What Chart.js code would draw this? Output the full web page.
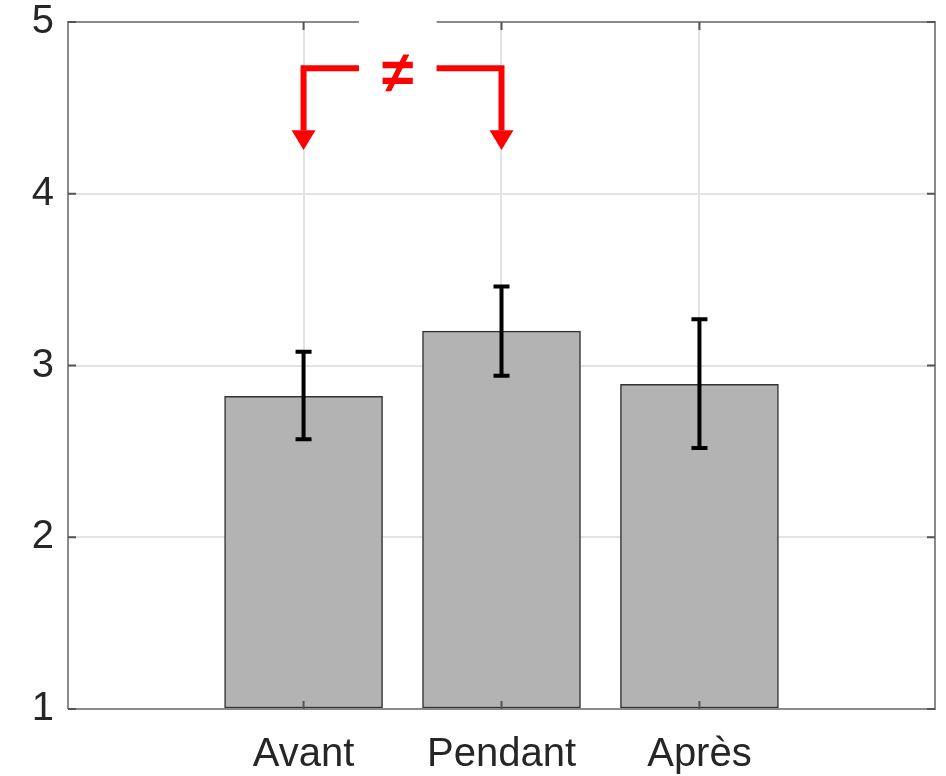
<!DOCTYPE html>
<html>
<head>
<meta charset="utf-8">
<script src="https://cdn.jsdelivr.net/npm/chart.js@4/dist/chart.umd.min.js"></script>
<style>
    html, body { margin: 0; padding: 0; background: #fff; }
    #wrap { width: 946px; height: 776px; }
</style>
</head>
<body>
<div id="wrap"><canvas id="myChart" width="946" height="776"></canvas></div>
<script>
const categories = ['Avant', 'Pendant', 'Après'];
const positions = [1, 2, 3];
const means = [2.82, 3.20, 2.89];
const errLow = [2.57, 2.94, 2.52];
const errHigh = [3.08, 3.46, 3.27];
const yTicks = [1, 2, 3, 4, 5];

const axisGray = '#8a8a8a';

// error bars, box frame, inner ticks and the red "≠" bracket
const extras = {
    id: 'extras',
    afterDatasetsDraw(chart) {
        const ctx = chart.ctx;
        const xs = chart.scales.x;
        const ys = chart.scales.y;
        const a = chart.chartArea;

        ctx.save();
        // error bars
        ctx.strokeStyle = '#000';
        ctx.lineWidth = 4;
        ctx.lineCap = 'butt';
        positions.forEach((p, i) => {
            const x = xs.getPixelForValue(p);
            const y1 = ys.getPixelForValue(errHigh[i]);
            const y2 = ys.getPixelForValue(errLow[i]);
            ctx.beginPath();
            ctx.moveTo(x, y1); ctx.lineTo(x, y2);
            ctx.moveTo(x - 8, y1); ctx.lineTo(x + 8, y1);
            ctx.moveTo(x - 8, y2); ctx.lineTo(x + 8, y2);
            ctx.stroke();
        });

        // frame
        ctx.strokeStyle = axisGray;
        ctx.lineWidth = 2;
        ctx.beginPath();
        ctx.moveTo(a.left, a.bottom); ctx.lineTo(a.left, a.top); ctx.lineTo(a.right, a.top);
        ctx.lineTo(a.right, a.bottom); ctx.lineTo(a.left, a.bottom);
        ctx.stroke();

        // inner ticks
        ctx.strokeStyle = '#555';
        ctx.lineWidth = 2;
        ctx.beginPath();
        positions.forEach(p => {
            const x = xs.getPixelForValue(p);
            ctx.moveTo(x, a.bottom); ctx.lineTo(x, a.bottom - 8);
            ctx.moveTo(x, a.top); ctx.lineTo(x, a.top + 8);
        });
        yTicks.forEach(t => {
            const y = ys.getPixelForValue(t);
            ctx.moveTo(a.left, y); ctx.lineTo(a.left + 8, y);
            ctx.moveTo(a.right, y); ctx.lineTo(a.right - 8, y);
        });
        ctx.stroke();

        // white gap over the top border
        const gx1 = xs.getPixelForValue(1.28);
        const gx2 = xs.getPixelForValue(1.672);
        ctx.fillStyle = '#fff';
        ctx.fillRect(gx1, 0, gx2 - gx1, a.top + 4);

        // red bracket
        const bx1 = xs.getPixelForValue(1);
        const bx2 = xs.getPixelForValue(2);
        const by = ys.getPixelForValue(4.73);
        const tip = ys.getPixelForValue(4.255);
        const head = ys.getPixelForValue(4.37);
        ctx.strokeStyle = '#ff0000';
        ctx.fillStyle = '#ff0000';
        ctx.lineWidth = 6;
        ctx.lineCap = 'butt';
        ctx.lineJoin = 'miter';
        ctx.beginPath();
        ctx.moveTo(gx1, by); ctx.lineTo(bx1, by); ctx.lineTo(bx1, head);
        ctx.moveTo(gx2, by); ctx.lineTo(bx2, by); ctx.lineTo(bx2, head);
        ctx.stroke();
        [bx1, bx2].forEach(x => {
            ctx.beginPath();
            ctx.moveTo(x - 12, head); ctx.lineTo(x + 12, head); ctx.lineTo(x, tip);
            ctx.closePath();
            ctx.fill();
        });
        ctx.font = 'bold 58px "Liberation Sans", Arial, sans-serif';
        ctx.textAlign = 'center';
        ctx.textBaseline = 'middle';
        ctx.fillText('≠', (gx1 + gx2) / 2, by + 8);
        ctx.restore();
    }
};

const ctx = document.getElementById('myChart');
const myChart = new Chart(ctx, {
    type: 'bar',
    data: {
        datasets: [{
            data: positions.map((p, i) => ({ x: p, y: means[i] })),
            backgroundColor: '#b3b3b3',
            borderColor: '#333333',
            borderWidth: 1.5,
            borderSkipped: false,
            barThickness: 158,
            base: 1
        }]
    },
    options: {
        responsive: false,
        animation: false,
        layout: { padding: { top: 22, right: 11, left: 0, bottom: 0 } },
        scales: {
            x: {
                type: 'linear',
                min: -0.19,
                max: 4.19,
                offset: false,
                afterBuildTicks: axis => { axis.ticks = positions.map(v => ({ value: v })); },
                afterFit: axis => { axis.height = 67; axis.paddingLeft = 0; axis.paddingRight = 0; },
                ticks: {
                    callback: v => categories[positions.indexOf(v)] || '',
                    color: '#262626',
                    font: { family: '"Liberation Sans", Arial, sans-serif', size: 40 },
                    padding: 22,
                    maxRotation: 0,
                    autoSkip: false
                },
                grid: { color: '#e3e3e3', lineWidth: 2, drawTicks: false, offset: false },
                border: { display: false }
            },
            y: {
                min: 1,
                max: 5,
                afterBuildTicks: axis => { axis.ticks = yTicks.map(v => ({ value: v })); },
                afterFit: axis => { axis.width = 68; axis.paddingTop = 0; axis.paddingBottom = 0; },
                ticks: {
                    color: '#262626',
                    font: { family: '"Liberation Sans", Arial, sans-serif', size: 40 },
                    padding: 14
                },
                grid: { color: '#e3e3e3', lineWidth: 2, drawTicks: false },
                border: { display: false }
            }
        },
        plugins: {
            legend: { display: false },
            tooltip: { enabled: false }
        }
    },
    plugins: [extras]
});
</script>
</body>
</html>
